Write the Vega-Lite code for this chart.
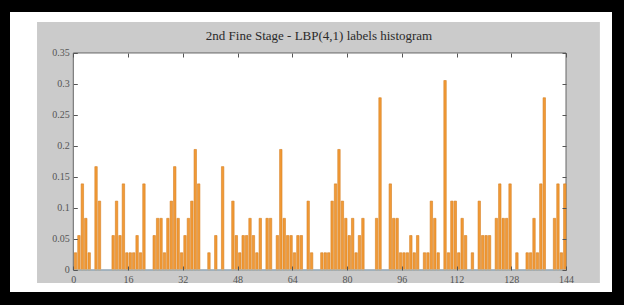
{
  "$schema": "https://vega.github.io/schema/vega-lite/v6.json",
  "width": 602,
  "height": 280,
  "autosize": {"type": "none"},
  "padding": {"left": 10, "top": 12, "right": 12, "bottom": 13},
  "background": "#000000",
  "title": {
    "text": "2nd Fine Stage - LBP(4,1) labels histogram",
    "font": "Liberation Serif",
    "fontSize": 13,
    "fontWeight": "normal",
    "color": "#2a2a2a",
    "anchor": "middle",
    "offset": -31,
    "dx": 8
  },
  "config": {
    "view": {"fill": "#ffffff", "stroke": null},
    "axis": {
      "grid": false,
      "domain": false,
      "tickColor": "#555555",
      "labelFont": "Liberation Serif",
      "labelFontSize": 10,
      "labelColor": "#555555",
      "title": null
    }
  },
  "data": {
    "values": [
      {"label": 0, "p": 0.0278}, {"label": 1, "p": 0.0556}, {"label": 2, "p": 0.1389}, {"label": 3, "p": 0.0833}, {"label": 4, "p": 0.0278},
      {"label": 6, "p": 0.1667}, {"label": 7, "p": 0.1111},
      {"label": 11, "p": 0.0556}, {"label": 12, "p": 0.1111}, {"label": 13, "p": 0.0556}, {"label": 14, "p": 0.1389}, {"label": 15, "p": 0.0278},
      {"label": 16, "p": 0.0278}, {"label": 17, "p": 0.0278}, {"label": 18, "p": 0.0556}, {"label": 19, "p": 0.0278}, {"label": 20, "p": 0.1389},
      {"label": 23, "p": 0.0556}, {"label": 24, "p": 0.0833}, {"label": 25, "p": 0.0833}, {"label": 26, "p": 0.0278}, {"label": 27, "p": 0.0833},
      {"label": 28, "p": 0.1111}, {"label": 29, "p": 0.1667}, {"label": 30, "p": 0.0833}, {"label": 31, "p": 0.0278}, {"label": 32, "p": 0.0556},
      {"label": 33, "p": 0.0833}, {"label": 34, "p": 0.1111}, {"label": 35, "p": 0.1944}, {"label": 36, "p": 0.1389},
      {"label": 39, "p": 0.0278}, {"label": 41, "p": 0.0556}, {"label": 43, "p": 0.1667},
      {"label": 46, "p": 0.1111}, {"label": 47, "p": 0.0556}, {"label": 48, "p": 0.0278}, {"label": 49, "p": 0.0556}, {"label": 50, "p": 0.0556},
      {"label": 51, "p": 0.0833}, {"label": 52, "p": 0.0556}, {"label": 53, "p": 0.0278}, {"label": 54, "p": 0.0833},
      {"label": 56, "p": 0.0833}, {"label": 57, "p": 0.0833}, {"label": 59, "p": 0.0556}, {"label": 60, "p": 0.1944},
      {"label": 61, "p": 0.0833}, {"label": 62, "p": 0.0556}, {"label": 63, "p": 0.0556}, {"label": 64, "p": 0.0278}, {"label": 65, "p": 0.0556},
      {"label": 66, "p": 0.0556}, {"label": 68, "p": 0.1111}, {"label": 69, "p": 0.0278},
      {"label": 72, "p": 0.0278}, {"label": 73, "p": 0.0278}, {"label": 74, "p": 0.0278}, {"label": 75, "p": 0.1111}, {"label": 76, "p": 0.1389},
      {"label": 77, "p": 0.1944}, {"label": 78, "p": 0.1111}, {"label": 79, "p": 0.0833}, {"label": 80, "p": 0.0556}, {"label": 81, "p": 0.0833},
      {"label": 82, "p": 0.0278}, {"label": 83, "p": 0.0556}, {"label": 84, "p": 0.0833},
      {"label": 88, "p": 0.0833}, {"label": 89, "p": 0.2778},
      {"label": 92, "p": 0.1389}, {"label": 93, "p": 0.0833}, {"label": 94, "p": 0.0833}, {"label": 95, "p": 0.0278}, {"label": 96, "p": 0.0278},
      {"label": 97, "p": 0.0278}, {"label": 98, "p": 0.0556}, {"label": 99, "p": 0.0278}, {"label": 100, "p": 0.0556},
      {"label": 102, "p": 0.0278}, {"label": 103, "p": 0.0278}, {"label": 104, "p": 0.1111}, {"label": 105, "p": 0.0833}, {"label": 106, "p": 0.0278},
      {"label": 108, "p": 0.3056}, {"label": 109, "p": 0.0278}, {"label": 110, "p": 0.1111}, {"label": 111, "p": 0.1111}, {"label": 112, "p": 0.0278},
      {"label": 113, "p": 0.0833}, {"label": 114, "p": 0.0556}, {"label": 116, "p": 0.0278},
      {"label": 118, "p": 0.1111}, {"label": 119, "p": 0.0556}, {"label": 120, "p": 0.0556}, {"label": 121, "p": 0.0556},
      {"label": 123, "p": 0.0833}, {"label": 124, "p": 0.1389}, {"label": 125, "p": 0.0833}, {"label": 126, "p": 0.0833}, {"label": 127, "p": 0.1389},
      {"label": 129, "p": 0.0278}, {"label": 132, "p": 0.0278}, {"label": 133, "p": 0.0278}, {"label": 134, "p": 0.0833}, {"label": 135, "p": 0.0278},
      {"label": 136, "p": 0.1389}, {"label": 137, "p": 0.2778},
      {"label": 140, "p": 0.0833}, {"label": 141, "p": 0.1389}, {"label": 142, "p": 0.0278}, {"label": 143, "p": 0.1389}
    ]
  },
  "layer": [
    {
      "data": {"values": [{}]},
      "mark": {"type": "rect", "fill": "#cbcbcb"},
      "encoding": {
        "x": {"datum": -10.6, "type": "quantitative", "scale": {"domain": [-18.5, 157.44], "nice": false, "zero": false}, "axis": null},
        "x2": {"datum": 153.9},
        "y": {"datum": -0.021, "type": "quantitative", "scale": {"domain": [-0.0355, 0.4161], "nice": false, "zero": false}, "axis": null},
        "y2": {"datum": 0.4}
      }
    },
    {
      "data": {"values": [{}]},
      "mark": {"type": "rect", "fill": "#ffffff", "stroke": "#666666", "strokeWidth": 1},
      "encoding": {
        "x": {"datum": 0, "type": "quantitative", "scale": {"domain": [-18.5, 157.44], "nice": false, "zero": false},
              "axis": {"orient": "top", "zindex": 2, "values": [0, 16, 32, 48, 64, 80, 96, 112, 128, 144], "labels": false, "tickSize": -4, "offset": -41}},
        "x2": {"datum": 144},
        "y": {"datum": 0, "type": "quantitative", "scale": {"domain": [-0.0355, 0.4161], "nice": false, "zero": false},
              "axis": {"orient": "right", "zindex": 2, "values": [0, 0.05, 0.1, 0.15, 0.2, 0.25, 0.3, 0.35], "labels": false, "tickSize": -4, "offset": -46}},
        "y2": {"datum": 0.35}
      }
    },
    {
      "mark": {"type": "bar", "fill": "#f29a36", "stroke": "#d57f22", "strokeWidth": 0.6},
      "encoding": {
        "x": {"field": "label", "type": "quantitative", "bin": {"step": 1, "extent": [0, 144]},
              "scale": {"domain": [-18.5, 157.44], "nice": false, "zero": false},
              "axis": {"orient": "bottom", "zindex": 2, "values": [0, 16, 32, 48, 64, 80, 96, 112, 128, 144], "tickSize": -4, "labelPadding": 8, "offset": -22, "format": "d"}},
        "y": {"field": "p", "type": "quantitative",
              "scale": {"domain": [-0.0355, 0.4161], "nice": false, "zero": false},
              "axis": {"orient": "left", "zindex": 2, "values": [0, 0.05, 0.1, 0.15, 0.2, 0.25, 0.3, 0.35], "tickSize": -4, "labelPadding": 8, "offset": -63.3, "format": ".2~f"}}
      }
    },
    {
      "data": {"values": [{}]},
      "mark": {"type": "rule", "stroke": "#a9c9e0", "strokeWidth": 1},
      "encoding": {
        "x": {"datum": 0, "type": "quantitative", "scale": {"domain": [-18.5, 157.44], "nice": false, "zero": false}, "axis": null},
        "x2": {"datum": 144},
        "y": {"datum": 0, "type": "quantitative", "scale": {"domain": [-0.0355, 0.4161], "nice": false, "zero": false}, "axis": null}
      }
    }
  ],
  "resolve": {"axis": {"x": "independent", "y": "independent"}}
}
